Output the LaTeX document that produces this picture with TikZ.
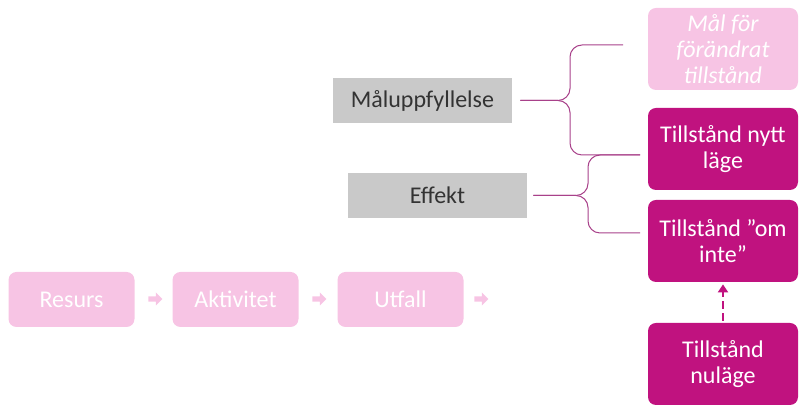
\documentclass[tikz,border=0pt]{standalone}
\usepackage{fontspec}
\setmainfont{Carlito}
\usetikzlibrary{shapes.arrows,arrows.meta}
\definecolor{ljusrosa}{HTML}{F7C4E4}
\definecolor{cerise}{HTML}{C0127F}
\definecolor{gra}{HTML}{C9C9C9}
\definecolor{klammer}{HTML}{A8418A}
\tikzset{
  ruta/.style={rounded corners=4pt, minimum width=75pt, minimum height=41pt,
    inner sep=0pt, align=center, text=white, font=\fontsize{12}{13}\selectfont},
  grabox/.style={fill=gra, minimum width=89.5pt, minimum height=22.5pt,
    inner sep=0pt, text=black!80, font=\fontsize{12}{13}\selectfont},
  steg/.style={fill=ljusrosa, rounded corners=4pt, minimum width=63pt,
    minimum height=27.5pt, inner sep=0pt, text=white, font=\fontsize{12}{13}\selectfont},
  pil/.style={single arrow, fill=ljusrosa, minimum height=7pt, minimum width=6.5pt,
    single arrow head extend=1.5pt, inner sep=0.8pt},
  klam/.style={draw=klammer, line width=0.5pt, rounded corners=6pt}
}
\begin{document}
\begin{tikzpicture}[x=0.5pt,y=-0.5pt]
\useasboundingbox (0,0) rectangle (800,405);

\node[ruta, fill=ljusrosa, font=\fontsize{12}{13}\selectfont\itshape] (mal) at (723,49) {Mål för\\förändrat\\tillstånd};
\node[ruta, fill=cerise] (nytt) at (723,149) {Tillstånd nytt\\läge};
\node[ruta, fill=cerise] (ominte) at (723,241) {Tillstånd ”om\\inte”};
\node[ruta, fill=cerise] (nulage) at (723,364) {Tillstånd\\nuläge};

\node[grabox] (maluppf) at (422.5,100.5) {Måluppfyllelse};
\node[grabox] (effekt) at (437.5,195.5) {Effekt};

\node[steg] (resurs) at (71.5,299.5) {Resurs};
\node[steg] (aktivitet) at (235.5,299.5) {Aktivitet};
\node[steg] (utfall) at (400.5,299.5) {Utfall};
\foreach \x in {154,318,480}
  \node[pil] at (\x,299) {};

\coordinate (k1) at (623,45);
\coordinate (k2) at (640,155);
\coordinate (k3) at (640,233);

\draw[klam] (k1) -- (570,45) -- (570,100.5) -- ([xshift=4pt]maluppf.east);
\draw[klam] ([xshift=4pt]maluppf.east) -- (570,100.5) -- (570,155) -- (k2);
\draw[klam] (k2) -- (588,155) -- (588,195.5) -- ([xshift=3pt]effekt.east);
\draw[klam] ([xshift=3pt]effekt.east) -- (588,195.5) -- (588,233) -- (k3);

\draw[cerise, line width=1.4pt, dash pattern=on 4pt off 2pt, -{Triangle[length=4pt,width=5pt]}] ([yshift=1pt]nulage.north) -- ([yshift=-1pt]ominte.south);

\end{tikzpicture}
\end{document}
